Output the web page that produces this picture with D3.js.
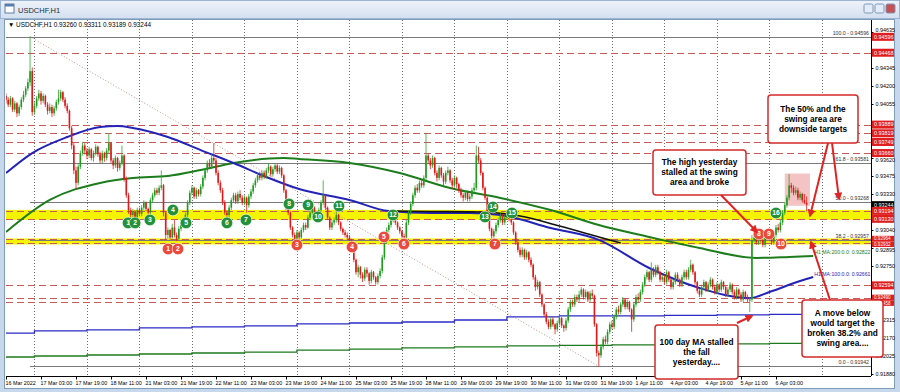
<!DOCTYPE html>
<html>
<head>
<meta charset="utf-8">
<script src="https://cdn.jsdelivr.net/npm/d3@7"></script>
<style>
  html, body { margin: 0; padding: 0; background: #fff; }
  svg { display: block; font-family: "Liberation Sans", Arial, sans-serif; }
</style>
</head>
<body>
<svg id="chart" width="900" height="392"></svg>
<script>
// hourly candles, prices in pips above 0.9000 (409 -> 0.9409), opens = previous close
const firstOpen = 412;
const closes = [
  409,405,410,401,406,398,403,409,413,418,423,432,
  399,404,410,414,408,412,405,400,403,398,402,407,410,415,409,404,400,
  386,372,352,342, 355,366,372,368,
  364,369,362,366,371,365,360,366,362,368,374,
  360,356,362,354,358,364, 345,332,320, 316,319,314,320,317,322,
  326,321,318,328,332,336, 334,338,340, 318,300,
  304,298,306,300,297,305,310, 311,316,326,
  334,338,331,336,333,339, 346,352,358,355,362,360, 350,342,336, 326,318,316,
  322,328,332,327,333,330,326,330,324,331,335, 340,344,348,346,
  350,347,352,355,349,353,356,351,354,348, 336,322,318, 306,300,297,
  302,298,304,308,306, 314,318,322,316, 312,320,326, 332,
  322,314,306,310, 312,316,310,305,302, 300,298,296, 292,280,270,
  274,268,265,272,269,263,270,266,262,267,271, 282,295,304,308,
  312,316,310,306,303, 299,298, 310,318,325, 332,338,336,342,340,346, 364,
  360,356,362,350,346,354,348,343,350,352,344,340,346,341,
  336,332,330,334,329,331, 336,338, 364,360, 350,338,330, 318,305,299,303,
  308,312,316,310,314,318,313, 310,302,294,288, 284,288,282,286,280,
  276,266,258,262, 252,244,236, 230,226,232,228,224,229,233,227,225,231,
  240,246,244,250,248, 252,256,250,254,248,253,251, 228,205,203,
  210,216,214,222,228,226,234,240,238, 244,248,242,246,240,232,244,250,248,254,
  260,266,270,264,272,268,274,270,264,
  266,262,270,264,258,262,268,264,260,266,270,266,272, 276,270,262,255,252,
  258,262,256,260,264,258,254,260,256,262,258,252,256,260,254,250,256,252,248,254,
  250,248,248,296, 298,294,300,296,292,298,302,297, 294,300,306,304,310,
  318,324,330,340, 338,334,336,330,333,328,326,324.4
];
const highs = [
  414,411,412,411,408,407,405,411,416,420,426,460,
  435,407,412,417,416,414,413,407,406,405,404,409,417,417,416,411,406,
  401,388,374,355, 357,368,375,374,
  370,371,370,368,373,372,367,368,367,370,382,
  375,362,364,363,360,372, 365,347,334, 322,321,320,322,322,324,
  328,327,322,330,334,338, 338,340,352, 341,319,
  306,305,309,312,302,307,313, 314,318,328,
  336,340,339,338,337,341, 348,354,360,361,365,374, 362,352,344, 338,328,320,
  324,330,334,334,335,336,332,332,331,333,337, 342,346,350,351,
  352,352,354,358,356,355,358,357,356,355, 349,337,324, 319,307,302,
  304,303,306,310,310, 316,320,324,323, 317,322,328, 344,
  333,323,315,312, 314,320,317,311,306, 304,302,300, 297,293,281,
  276,275,270,274,274,270,272,271,267,269,273, 284,297,306,310,
  314,320,317,311,307, 304,301, 312,320,327, 334,340,341,344,345,348, 382,
  366,362,364,363,352,356,355,350,352,355,353,346,348,347,
  342,338,334,336,335,333, 338,342, 372,371, 362,351,339, 331,319,306,305,
  310,314,318,317,316,320,319, 315,311,303,296, 290,290,289,288,287,
  282,277,268,264, 263,253,245, 238,232,234,234,229,231,235,234,228,233,
  242,248,248,252,252, 255,258,257,256,255,255,256, 252,229,207,
  212,218,219,224,230,231,236,242,243, 246,250,249,248,247,241,246,252,253,256,
  262,268,272,271,278,274,276,276,271,
  268,268,272,271,265,264,270,270,265,268,272,272,274, 280,277,271,263,257,
  260,264,263,262,266,265,260,262,261,264,263,259,258,262,261,256,258,257,254,256,
  255,252,250,300, 302,300,302,302,298,300,304,303, 299,302,308,309,312,
  320,326,332,349, 342,340,339,338,335,334,333,331.1
];
const lows = [
  406,403,403,399,399,395,396,401,407,411,416,420,
  396,397,402,408,405,406,403,397,398,395,396,400,405,408,407,402,398,
  384,369,349,337, 340,353,364,365,
  361,362,360,359,364,363,358,358,359,360,366,
  358,353,354,351,352,356, 343,330,317, 313,314,312,313,315,315,
  320,319,315,316,326,330, 332,332,336, 315,296,
  297,296,297,298,295,296,303, 306,309,314,
  324,332,329,329,331,331, 337,344,350,353,353,357, 348,340,334, 324,316,314,
  314,320,326,325,325,328,324,324,318,322,329, 333,338,342,344,
  344,345,345,350,347,347,351,349,349,346, 334,320,316, 304,298,296,
  296,296,297,302,304, 305,312,316,314, 311,311,318, 324,
  320,312,304,304, 308,310,308,303,300, 298,296,295, 290,278,268,
  266,265,262,263,266,260,261,264,260,260,265, 269,280,293,302,
  306,310,308,304,301, 297,296, 297,308,316, 323,330,334,334,338,338, 344,
  357,353,354,348,343,344,346,340,341,348,342,337,338,338,
  334,330,327,328,327,327, 329,334, 336,358, 348,336,328, 316,303,297,297,
  301,306,310,308,308,312,311, 308,300,292,286, 282,282,280,280,278,
  274,264,255,256, 250,242,234, 228,224,224,226,220,222,227,225,222,223,
  229,238,242,242,246, 246,250,248,248,246,246,249, 226,202,194,
  201,208,212,212,220,224,224,232,236, 236,242,240,240,238,222,230,242,246,246,
  252,258,264,262,262,266,266,268,262,
  262,260,260,262,256,256,260,262,258,258,264,264,264, 270,268,260,253,250,
  250,256,254,254,258,256,252,252,254,254,256,250,250,254,252,248,248,250,246,246,
  248,246,238,246, 294,292,292,294,290,290,296,295, 292,292,298,302,302,
  308,316,322,328, 334,332,332,328,328,326,325,318.9
];

// x axis: a label every 16 bars starting at bar 0
const timeLabels = [
  "16 Mar 2022","17 Mar 03:00","17 Mar 19:00","18 Mar 11:00","21 Mar 03:00","21 Mar 19:00",
  "22 Mar 11:00","23 Mar 03:00","23 Mar 19:00","24 Mar 11:00","25 Mar 03:00","25 Mar 19:00",
  "28 Mar 11:00","29 Mar 03:00","29 Mar 19:00","30 Mar 11:00","31 Mar 03:00","31 Mar 19:00",
  "1 Apr 11:00","4 Apr 03:00","4 Apr 19:00","5 Apr 11:00","6 Apr 03:00"
];
// bar index of each midnight (day separators), first entry is 16 Mar 00:00
const dayStarts = [-11, 13, 37, 61, 85, 109, 133, 157, 181, 205, 229, 253, 277, 301, 325, 349, 373];

const priceTicks = [0.94635, 0.94490, 0.94345, 0.94200, 0.94055, 0.93910, 0.93765, 0.93620, 0.93475,
  0.93330, 0.93185, 0.93040, 0.92895, 0.92750, 0.92605, 0.92460, 0.92315, 0.92170, 0.92025, 0.91880];

const levelLines = [0.94596, 0.94468, 0.93889, 0.93819, 0.93749, 0.93660, 0.93194, 0.93130,
  0.92964, 0.92932, 0.92594, 0.92490, 0.92458];
const swingBands = [[0.93194, 0.93130], [0.92964, 0.92932]];

const fibLevels = [[100.0, 0.94596], [61.8, 0.93581], [50.0, 0.93268], [38.2, 0.92957], [0.0, 0.91942]];
const fibStart = 11, fibEnd = 271;

// moving averages, [bar, pips]
const ma100h = [[0,349.9],[12,366],[28,378.9],[43,387],[51,387.8],[58,386.2],[74,378.9],[89,368.4],
  [104,358],[119,346.7],[134,337],[157,328.2],[175,319.3],[194,317.7],[212,317.7],[226,316.1],
  [249,305.6],[271,296],[294,273.4],[317,257.3],[340,249.2],[349,254.1],[363,262.9],[369,266.1]];
const ma200h = [[0,302.4],[20,328.2],[43,341.9],[58,345.9],[74,347.5],[89,352.3],[104,358],[127,362],
  [134,361.2],[157,358],[180,349.9],[203,337.8],[226,329.8],[249,320.1],[271,308],[294,298.4],
  [317,289.5],[343,281.5],[358,282.3],[369,283.1]];
const maBlack = [[175,319.3],[194,318.9],[217,318.5],[235,315.3],[253,307.2],[271,298.4],[281,293.5]];
const ma100d = [221.0,222.7,223.5,225.1,225.9,226.7,228.3,229.1,229.9,231.5,234.0,234.8,234.8,235.2,235.6,236.0,236.0];
const ma200d = [201.7,202.5,203.3,204.1,204.9,205.7,207.3,208.1,209.0,209.8,210.6,211.0,211.4,211.8,212.2,212.6,212.6];

// touch markers [label, bar, pips]
const greenMarks = [["1",55.8,309.7],["2",59,309.7],["3",65.8,312.1],["4",76.3,320.1],["5",82.3,309.7],
  ["6",101,309.7],["7",109.7,312.1],["8",129.4,325],["9",138.1,324.1],["10",142.6,314.5],
  ["11",152.2,323.3],["12",176.9,316.1],["13",219,314.5],["14",222.6,322.5],["15",231.3,317.7],
  ["16",352,317.7]];
const redMarks = [["1",74.1,288.7],["2",78.6,288.7],["3",133,291.9],["4",158.2,290.3],["5",172.8,298.4],
  ["6",181.9,292.7],["7",223.5,292.7],["8",344.2,300.8],["9",348.8,300.8],["10",354.3,292.7]];

const header = "\u25BC USDCHF,H1  0.93260 0.93311 0.93189 0.93244";

const notes = [
  { box: [768, 95, 90, 48], lines: ["The 50% and the", "swing area are", "downside targets"] },
  { box: [653, 150, 93, 45], lines: ["The high yesterday", "stalled at the swing", "area and broke"] },
  { box: [655, 325, 83, 54], lines: ["100 day MA stalled", "the fall", "yesterday...."] },
  { box: [802, 300, 81, 57], lines: ["A move below", "would target the", "broken 38.2% and", "swing area...."] }
];
const arrows = [[832,143,839,199],[828,143,810,216],[721,195,757,232],[737,323,752,316],[830,300,811,242]];

const toP = v => 0.9 + v / 10000;
const plot = { left: 6, right: 871, top: 20, bottom: 376 };
const barW = 2.1875;

const svg = d3.select("#chart");

const x = d3.scaleLinear().domain([0, 396]).range([plot.left, plot.left + 396 * barW]);
const y = d3.scaleLinear().domain([0.91880, 0.94345]).range([374, 68]);

// window chrome
const defs = svg.append("defs");
const grad = defs.append("linearGradient").attr("id", "titlebar")
  .attr("x1", 0).attr("y1", 0).attr("x2", 0).attr("y2", 1);
grad.append("stop").attr("offset", "0%").attr("stop-color", "#eef3fa");
grad.append("stop").attr("offset", "100%").attr("stop-color", "#d3e0f0");
defs.append("clipPath").attr("id", "plotclip").append("rect")
  .attr("x", plot.left).attr("y", plot.top)
  .attr("width", plot.right - plot.left).attr("height", plot.bottom - plot.top);

svg.append("rect").attr("width", 900).attr("height", 392).attr("fill", "#c8d8ec");
svg.append("rect").attr("x", 0.5).attr("y", 0.5).attr("width", 899).attr("height", 18)
  .attr("fill", "url(#titlebar)").attr("stroke", "#9db4d2");
svg.append("rect").attr("x", 5).attr("y", 4).attr("width", 9).attr("height", 9)
  .attr("fill", "#fff").attr("stroke", "#5a7ca8");
svg.append("rect").attr("x", 5).attr("y", 4).attr("width", 9).attr("height", 2.5).attr("fill", "#5a7ca8");
svg.append("text").attr("x", 18).attr("y", 12.5).attr("font-size", 7.5).attr("fill", "#1e2a3a").text("USDCHF,H1");
[0, 1, 2].forEach(k => {
  svg.append("rect").attr("x", 864 + k * 11).attr("y", 4).attr("width", 9).attr("height", 9)
    .attr("fill", k === 2 ? "#c75050" : "#e4ecf7").attr("stroke", "#7d96b8").attr("rx", 1.5);
});
svg.append("rect").attr("x", 4.5).attr("y", 19.5).attr("width", 890).attr("height", 369)
  .attr("fill", "#fff").attr("stroke", "#7f9db9");

svg.append("text").attr("x", 8).attr("y", 27).attr("font-size", 6.4).attr("fill", "#000").text(header);

const g = svg.append("g").attr("clip-path", "url(#plotclip)");

// day separators
g.selectAll(".grid").data(dayStarts.filter(d => d > 0)).join("line")
  .attr("x1", d => Math.round(x(d)) + 0.5).attr("x2", d => Math.round(x(d)) + 0.5)
  .attr("y1", plot.top).attr("y2", plot.bottom)
  .attr("stroke", "#707070").attr("stroke-width", 1).attr("stroke-dasharray", "1,2");

// swing area bands
g.selectAll(".band").data(swingBands).join("rect")
  .attr("x", plot.left).attr("width", plot.right - plot.left)
  .attr("y", d => y(d[0]) - 1).attr("height", d => y(d[1]) - y(d[0]) + 2)
  .attr("fill", "#f4f400");

// horizontal levels
g.selectAll(".level").data(levelLines).join("line")
  .attr("x1", plot.left).attr("x2", plot.right)
  .attr("y1", d => Math.round(y(d)) + 0.5).attr("y2", d => Math.round(y(d)) + 0.5)
  .attr("stroke", "#c85a5a").attr("stroke-width", 1).attr("stroke-dasharray", "7,4");

// fibonacci
g.append("line")
  .attr("x1", x(fibStart)).attr("y1", y(fibLevels[0][1]))
  .attr("x2", x(fibEnd)).attr("y2", y(fibLevels[4][1]))
  .attr("stroke", "#c49090").attr("stroke-dasharray", "1,2");
g.selectAll(".fib").data(fibLevels).join("line")
  .attr("x1", d => d[0] === 100 ? plot.left : x(fibStart)).attr("x2", plot.right)
  .attr("y1", d => Math.round(y(d[1])) + 0.5).attr("y2", d => Math.round(y(d[1])) + 0.5)
  .attr("stroke", "#7a7a7a");
svg.selectAll(".fibtxt").data(fibLevels).join("text")
  .attr("x", 869).attr("y", d => y(d[1]) - 2).attr("text-anchor", "end")
  .attr("font-size", 5.2).attr("fill", "#333")
  .text(d => `${d[0].toFixed(1)} - ${d[1].toFixed(5)}`);

// daily moving averages (stepped)
const stepLine = d3.line().x(d => x(d[0])).y(d => y(toP(d[1]))).curve(d3.curveStepAfter);
const stepPts = vals => vals.map((v, k) => [dayStarts[k], v]).concat([[400, vals[vals.length - 1]]]);
g.append("path").attr("d", stepLine(stepPts(ma100d))).attr("fill", "none").attr("stroke", "#2a2ac8").attr("stroke-width", 1.3);
g.append("path").attr("d", stepLine(stepPts(ma200d))).attr("fill", "none").attr("stroke", "#1e7a1e").attr("stroke-width", 1.3);

// hourly moving averages
const maLine = d3.line().x(d => x(d[0])).y(d => y(toP(d[1]))).curve(d3.curveMonotoneX);
g.append("path").attr("d", maLine(ma200h)).attr("fill", "none").attr("stroke", "#1d7d1d").attr("stroke-width", 2);
g.append("path").attr("d", maLine(ma100h)).attr("fill", "none").attr("stroke", "#2323b8").attr("stroke-width", 2);
g.append("path").attr("d", maLine(maBlack)).attr("fill", "none").attr("stroke", "#111").attr("stroke-width", 1.6);
svg.append("text").attr("x", x(369) + 1).attr("y", y(toP(283.1)) - 1.5).attr("font-size", 5.2)
  .attr("fill", "#1d7d1d").text("H1 MA:200:0.0: 0.92822");
svg.append("text").attr("x", x(369) + 1).attr("y", y(toP(266.1)) - 1.5).attr("font-size", 5.2)
  .attr("fill", "#2323b8").text("H1 MA:100:0.0: 0.92661");

// highlighted recent range
g.append("rect").attr("x", x(356)).attr("y", y(toP(349.5)))
  .attr("width", x(367.5) - x(356)).attr("height", y(toP(323.5)) - y(toP(349.5)))
  .attr("fill", "#f4c4c4");

// candles
const candles = closes.map((c, i) => ({
  i, o: toP(i ? closes[i - 1] : firstOpen), h: toP(highs[i]), l: toP(lows[i]), c: toP(c)
}));
const cg = g.append("g");
cg.selectAll(".wick").data(candles).join("line")
  .attr("x1", d => x(d.i)).attr("x2", d => x(d.i))
  .attr("y1", d => y(d.h)).attr("y2", d => y(d.l))
  .attr("stroke", d => d.c >= d.o ? "#2fa52f" : "#e02020").attr("stroke-width", 0.8);
cg.selectAll(".body").data(candles).join("rect")
  .attr("x", d => x(d.i) - 0.8).attr("width", 1.6)
  .attr("y", d => y(Math.max(d.o, d.c)))
  .attr("height", d => Math.max(1, Math.abs(y(d.o) - y(d.c))))
  .attr("fill", d => d.c >= d.o ? "#1f9a1f" : "#e01818");

// touch markers
const drawMarks = (data, fill) => {
  const m = g.append("g").selectAll("g").data(data).join("g")
    .attr("transform", d => `translate(${x(d[1])},${y(toP(d[2]))})`);
  m.append("circle").attr("r", 5.8).attr("fill", fill).attr("stroke", "#fff").attr("stroke-width", 0.6);
  m.append("text").attr("text-anchor", "middle").attr("dy", "0.35em")
    .attr("font-size", 6.8).attr("font-weight", "bold").attr("fill", "#fff").text(d => d[0]);
};
drawMarks(greenMarks, "#23913a");
drawMarks(redMarks, "#ea4a3c");

// frame of the plot
svg.append("line").attr("x1", plot.right + 0.5).attr("x2", plot.right + 0.5)
  .attr("y1", plot.top).attr("y2", plot.bottom).attr("stroke", "#000");
svg.append("line").attr("x1", plot.left).attr("x2", plot.right)
  .attr("y1", plot.bottom + 0.5).attr("y2", plot.bottom + 0.5).attr("stroke", "#000");

// price tags for the levels: nudge apart the ones that nearly coincide
const lastPrice = toP(closes[closes.length - 1]);
const tags = levelLines.map(p => ({ p, fill: "#e01e1e", cy: y(p), h: 8 }))
  .concat([{ p: lastPrice, fill: "#000", cy: y(lastPrice), h: 7 }])
  .sort((a, b) => a.cy - b.cy);
for (let k = 1; k < tags.length; k++) {
  const a = tags[k - 1], b = tags[k];
  if (b.cy - a.cy < 5.6) {
    const mid = (a.cy + b.cy) / 2;
    a.cy = mid - 2.8; b.cy = mid + 2.8;
    a.h = Math.min(a.h, 5.6); b.h = 5.6;
  }
}

// price axis; a label under a tag is hidden, one just beside it is pushed clear
const tickShift = p => {
  const yp = y(p);
  let near = null;
  tags.forEach(t => { if (!near || Math.abs(t.cy - yp) < Math.abs(near.cy - yp)) near = t; });
  const need = near.h / 2 + 3.2;
  const d = yp - near.cy;
  if (Math.abs(d) >= need) return 0;
  return (d < 0 ? -need : need) - d;
};
const shownTicks = priceTicks.filter(p => {
  const yp = y(p);
  return tags.every(t => Math.abs(t.cy - yp) > 3);
});
const yAxis = d3.axisRight(y).tickValues(shownTicks).tickFormat(d3.format(".5f")).tickSize(2).tickPadding(2);
const ya = svg.append("g").attr("transform", `translate(${plot.right + 0.5},0)`).call(yAxis);
ya.select(".domain").remove();
ya.selectAll("text").attr("font-size", 5.4).attr("font-family", "Liberation Sans, Arial, sans-serif")
  .attr("fill", "#000").attr("transform", d => `translate(0,${tickShift(d)})`);

// time axis
const xAxis = d3.axisBottom(x).tickValues(timeLabels.map((_, k) => k * 16))
  .tickFormat((d, k) => timeLabels[k]).tickSize(3).tickPadding(2);
const xa = svg.append("g").attr("transform", `translate(0,${plot.bottom + 0.5})`).call(xAxis);
xa.select(".domain").remove();
xa.selectAll("text").attr("text-anchor", "start").attr("dx", "-1").attr("font-size", 5.4)
  .attr("font-family", "Liberation Sans, Arial, sans-serif").attr("fill", "#000");

tags.forEach(t => {
  const tg = svg.append("g").attr("transform", `translate(${plot.right + 1},${t.cy})`);
  tg.append("rect").attr("x", 0).attr("y", -t.h / 2).attr("width", 22).attr("height", t.h).attr("fill", t.fill);
  tg.append("text").attr("x", 2).attr("dy", "0.35em").attr("font-size", t.h < 7 ? 4.6 : 5.4)
    .attr("fill", "#fff").text(t.p.toFixed(5));
});

// callouts
const ag = svg.append("g");
defs.append("marker").attr("id", "head").attr("viewBox", "0 0 10 10").attr("refX", 8).attr("refY", 5)
  .attr("markerWidth", 4).attr("markerHeight", 4).attr("orient", "auto")
  .append("path").attr("d", "M0,0L10,5L0,10z").attr("fill", "#e02424");
ag.selectAll("line").data(arrows).join("line")
  .attr("x1", d => d[0]).attr("y1", d => d[1]).attr("x2", d => d[2]).attr("y2", d => d[3])
  .attr("stroke", "#e02424").attr("stroke-width", 2).attr("marker-end", "url(#head)");
notes.forEach(n => {
  const [bx, by, bw, bh] = n.box;
  ag.append("rect").attr("x", bx).attr("y", by).attr("width", bw).attr("height", bh)
    .attr("rx", 3).attr("fill", "#fff").attr("stroke", "#d42a2a").attr("stroke-width", 1.5);
  const top = by + bh / 2 - (n.lines.length - 1) * 5;
  n.lines.forEach((s, k) => {
    ag.append("text").attr("x", bx + bw / 2).attr("y", top + k * 10).attr("dy", "0.35em")
      .attr("text-anchor", "middle").attr("font-size", 8.3).attr("font-weight", "bold")
      .attr("fill", "#000").text(s);
  });
});
</script>
</body>
</html>
